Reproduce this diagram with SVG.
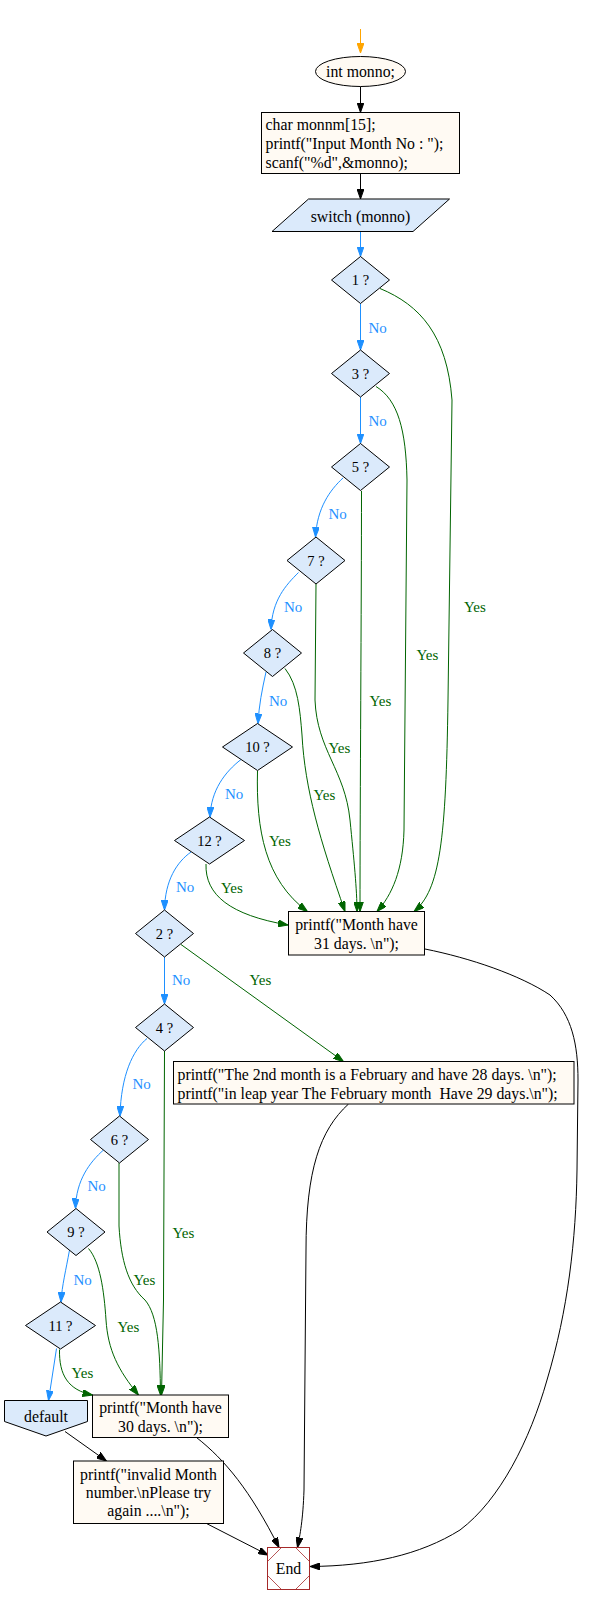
<svg xmlns="http://www.w3.org/2000/svg" width="589" height="1604" viewBox="0 0 589 1604">
<style>
text{font-family:"Liberation Serif","Times New Roman",serif;font-size:15.8px;fill:#000}
.c{text-anchor:middle}
.d{font-size:14.5px}
.no{fill:#1e90ff;font-size:15px}
.yes{fill:#006400;font-size:15px}
.box{fill:#fffaf3;stroke:#000;stroke-width:1}
.dia{fill:#dbeafb;stroke:#000;stroke-width:1}
.e{fill:none;stroke-width:1}
.eb{stroke:#1e90ff;marker-end:url(#mb)}
.eg{stroke:#006400;marker-end:url(#mg)}
.ek{stroke:#000;marker-end:url(#mk)}
.eo{stroke:#ffa500;marker-end:url(#mo)}
</style>
<defs>
<marker id="mb" markerWidth="10" markerHeight="7" refX="10" refY="3.5" orient="auto" markerUnits="userSpaceOnUse"><path d="M0,0L10,3.5L0,7z" fill="#1e90ff" stroke="#1e90ff"/></marker>
<marker id="mg" markerWidth="10" markerHeight="7" refX="10" refY="3.5" orient="auto" markerUnits="userSpaceOnUse"><path d="M0,0L10,3.5L0,7z" fill="#006400" stroke="#006400"/></marker>
<marker id="mk" markerWidth="10" markerHeight="7" refX="10" refY="3.5" orient="auto" markerUnits="userSpaceOnUse"><path d="M0,0L10,3.5L0,7z" fill="#000" stroke="#000"/></marker>
<marker id="mo" markerWidth="10" markerHeight="7" refX="10" refY="3.5" orient="auto" markerUnits="userSpaceOnUse"><path d="M0,0L10,3.5L0,7z" fill="#ffa500" stroke="#ffa500"/></marker>
</defs>
<rect width="589" height="1604" fill="#fff"/>

<g id="connectors">
<path class="e eo" d="M360.5,29L360.5,53"/>
<path class="e ek" d="M360.5,86.5L360.5,112.5"/>
<path class="e ek" d="M360.5,173.5L360.5,199"/>
<path class="e eb" d="M360.5,231.5L360.5,256.5"/>
<path class="e eb" d="M360.5,303.5L360.5,350"/>
<path class="e eb" d="M360.5,397L360.5,443.5"/>
<path class="e eb" d="M343,478C330,490 317,508 315.5,537"/>
<path class="e eb" d="M298.5,572.5C286,585 272,600 271,629.5"/>
<path class="e eb" d="M266,672C262,690 259,705 258,723.5"/>
<path class="e eb" d="M241,759.5C225,772 211,790 210,817"/>
<path class="e eb" d="M191,852C177,862 165,880 164.5,910"/>
<path class="e eb" d="M164.5,957L164.5,1004"/>
<path class="e eb" d="M147,1038.5C133,1050 121,1075 120,1116"/>
<path class="e eb" d="M103.5,1150C90,1162 76,1180 75.5,1208.5"/>
<path class="e eb" d="M69.5,1250C66,1270 62,1285 61,1302"/>
<path class="e eb" d="M56.5,1348.5L48.5,1400.5"/>

<path class="e eg" d="M380,288.5C420,305 447,335 452,400L448,700C446,840 440,890 414,911.5"/>
<path class="e eg" d="M376,386.5C398,400 406,430 407,480L404,830C403,870 392,895 377,911.5"/>
<path class="e eg" d="M361.5,491C361.5,600 360,800 360,911.5"/>
<path class="e eg" d="M316,584L315,700C317,750 345,770 350,820C354,860 357,890 357,911.5"/>
<path class="e eg" d="M285,668.5C298,685 300,710 302,735C305,790 320,840 345,911.5"/>
<path class="e eg" d="M257.5,771C256,830 265,880 307.5,911.5"/>
<path class="e eg" d="M206,864C205,895 230,915 288,925"/>
<path class="e eg" d="M181,944.5L343.5,1061.5"/>
<path class="e eg" d="M164.5,1051L163.5,1300L161.5,1395"/>
<path class="e eg" d="M119,1163L119,1226C121,1260 128,1285 145,1300C158,1315 160,1350 160.5,1395"/>
<path class="e eg" d="M88.5,1248.5C100,1262 104,1290 106,1320C108,1350 118,1370 138.5,1395"/>
<path class="e eg" d="M59.5,1349.5C59,1375 68,1390 92.5,1395"/>

<path class="e ek" d="M65,1431.5L106.5,1461"/>
<path class="e ek" d="M206.5,1523.5L268,1555"/>
<path class="e ek" d="M196.5,1437.5C225,1460 250,1490 279,1547.5"/>
<path class="e ek" d="M348.5,1104C320,1130 306,1170 306,1250L304,1490C303,1520 300,1535 297.5,1547.5"/>
<path class="e ek" d="M425,949C470,958 520,975 550,995C572,1015 578,1045 578,1080L577,1170C576,1240 568,1310 547,1380C530,1440 500,1500 460,1530C420,1555 370,1566 310,1566.5"/>
</g>

<g id="labels">
<text class="no" x="368.5" y="332.5">No</text>
<text class="no" x="368.5" y="426">No</text>
<text class="no" x="328.5" y="519">No</text>
<text class="no" x="284" y="611.5">No</text>
<text class="no" x="269" y="705.5">No</text>
<text class="no" x="225" y="799">No</text>
<text class="no" x="176" y="892">No</text>
<text class="no" x="172" y="985">No</text>
<text class="no" x="132.5" y="1088.5">No</text>
<text class="no" x="87.5" y="1191">No</text>
<text class="no" x="73.5" y="1284.5">No</text>
<text class="yes" x="464" y="612">Yes</text>
<text class="yes" x="416.5" y="659.5">Yes</text>
<text class="yes" x="369.5" y="705.5">Yes</text>
<text class="yes" x="328.5" y="752.5">Yes</text>
<text class="yes" x="313.5" y="799.5">Yes</text>
<text class="yes" x="269" y="845.5">Yes</text>
<text class="yes" x="221" y="892.5">Yes</text>
<text class="yes" x="249.5" y="985">Yes</text>
<text class="yes" x="172.5" y="1237.5">Yes</text>
<text class="yes" x="133.5" y="1284.5">Yes</text>
<text class="yes" x="117.5" y="1331.5">Yes</text>
<text class="yes" x="71.5" y="1377.5">Yes</text>
</g>

<g id="start">
<ellipse cx="360.5" cy="71.5" rx="45" ry="15" class="box"/>
<text class="c" x="360.5" y="76.5">int monno;</text>
</g>
<g id="decl">
<rect x="261.5" y="112.5" width="198" height="61" class="box"/>
<text x="265.5" y="130">char monnm[15];</text>
<text x="265.5" y="149">printf("Input Month No : ");</text>
<text x="265.5" y="167.5">scanf("%d",&amp;monno);</text>
</g>
<g id="switch">
<polygon points="308.5,199 449.5,199 413,231.5 272,231.5" class="dia"/>
<text class="c" x="360.5" y="221.5">switch (monno)</text>
</g>
<g id="c1"><polygon points="360.5,256.5 389.5,280 360.5,303.5 331.5,280" class="dia"/><text class="c d" x="360.5" y="285">1 ?</text></g>
<g id="c3"><polygon points="360.5,350 389.5,373.5 360.5,397 331.5,373.5" class="dia"/><text class="c d" x="360.5" y="378.5">3 ?</text></g>
<g id="c5"><polygon points="360.5,443.5 389.5,467 360.5,490.5 331.5,467" class="dia"/><text class="c d" x="360.5" y="472">5 ?</text></g>
<g id="c7"><polygon points="316,537 345,560.5 316,584 287,560.5" class="dia"/><text class="c d" x="316" y="565.5">7 ?</text></g>
<g id="c8"><polygon points="272.5,629.5 301.5,653 272.5,676.5 243.5,653" class="dia"/><text class="c d" x="272.5" y="658">8 ?</text></g>
<g id="c10"><polygon points="257.5,723.5 292.5,747 257.5,770.5 222.5,747" class="dia"/><text class="c d" x="257.5" y="752">10 ?</text></g>
<g id="c12"><polygon points="209.5,817 244.5,840.5 209.5,864 174.5,840.5" class="dia"/><text class="c d" x="209.5" y="845.5">12 ?</text></g>
<g id="c2"><polygon points="164.5,910 193.5,933.5 164.5,957 135.5,933.5" class="dia"/><text class="c d" x="164.5" y="938.5">2 ?</text></g>
<g id="c4"><polygon points="164.5,1004 193.5,1027.5 164.5,1051 135.5,1027.5" class="dia"/><text class="c d" x="164.5" y="1032.5">4 ?</text></g>
<g id="c6"><polygon points="119.5,1116 148.5,1139.5 119.5,1163 90.5,1139.5" class="dia"/><text class="c d" x="119.5" y="1144.5">6 ?</text></g>
<g id="c9"><polygon points="76,1208.5 105,1232 76,1255.5 47,1232" class="dia"/><text class="c d" x="76" y="1237">9 ?</text></g>
<g id="c11"><polygon points="60.5,1302 95.5,1325.5 60.5,1349 25.5,1325.5" class="dia"/><text class="c d" x="60.5" y="1330.5">11 ?</text></g>
<g id="days31">
<rect x="288.5" y="911.5" width="136" height="43.5" class="box"/>
<text class="c" x="356.5" y="930">printf("Month have</text>
<text class="c" x="356.5" y="948.5">31 days. \n");</text>
</g>
<g id="feb">
<rect x="173.5" y="1061.5" width="400.5" height="42.5" class="box"/>
<text x="177.5" y="1080">printf("The 2nd month is a February and have 28 days. \n");</text>
<text x="177.5" y="1098.5" style="white-space:pre">printf("in leap year The February month  Have 29 days.\n");</text>
</g>
<g id="days30">
<rect x="92.5" y="1395" width="136" height="42.5" class="box"/>
<text class="c" x="160.5" y="1413">printf("Month have</text>
<text class="c" x="160.5" y="1431.5">30 days. \n");</text>
</g>
<g id="default">
<polygon points="4.5,1400.5 87.5,1400.5 87.5,1421.5 46,1436 4.5,1421.5" class="dia"/>
<text class="c" x="46" y="1422">default</text>
</g>
<g id="invalid">
<rect x="73.5" y="1461" width="150" height="62.5" class="box"/>
<text class="c" x="148.5" y="1479.5">printf("invalid Month</text>
<text class="c" x="148.5" y="1498">number.\nPlease try</text>
<text class="c" x="148.5" y="1516">again ....\n");</text>
</g>
<g id="end">
<rect x="267.5" y="1547.5" width="42" height="42" fill="#fff" stroke="#a52a2a"/>
<polygon points="281.5,1547.5 295.5,1547.5 309.5,1561.5 309.5,1575.5 295.5,1589.5 281.5,1589.5 267.5,1575.5 267.5,1561.5" fill="none" stroke="#a52a2a" stroke-width="0.8"/>
<text class="c" x="288.5" y="1573.5">End</text>
</g>
</svg>
